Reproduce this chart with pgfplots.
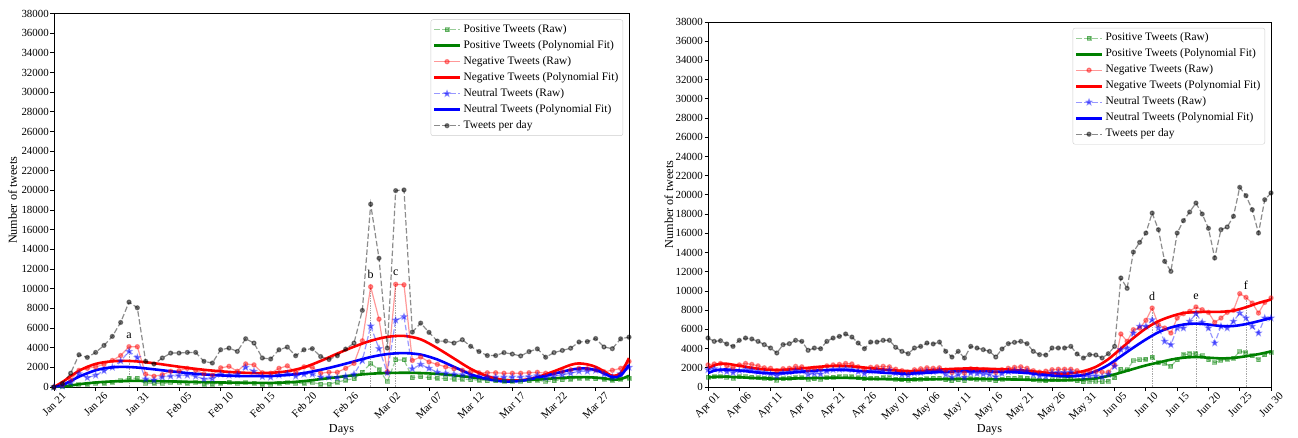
\documentclass[border=0pt]{standalone}
\usepackage{fontspec}
\setmainfont{Liberation Serif}
\usepackage{graphicx}
\usepackage{pgfplots}
\usepackage{pgfplotstable}
\pgfplotsset{compat=1.18}

\definecolor{mplgreen}{RGB}{0,128,0}
\definecolor{mplred}{RGB}{255,0,0}
\definecolor{mplblue}{RGB}{0,0,255}

% filled five-pointed star marker
\pgfdeclareplotmark{fstar}{%
  \pgfpathmoveto{\pgfpointpolar{90}{1.3\pgfplotmarksize}}%
  \pgfpathlineto{\pgfpointpolar{126}{0.55\pgfplotmarksize}}%
  \pgfpathlineto{\pgfpointpolar{162}{1.3\pgfplotmarksize}}%
  \pgfpathlineto{\pgfpointpolar{198}{0.55\pgfplotmarksize}}%
  \pgfpathlineto{\pgfpointpolar{234}{1.3\pgfplotmarksize}}%
  \pgfpathlineto{\pgfpointpolar{270}{0.55\pgfplotmarksize}}%
  \pgfpathlineto{\pgfpointpolar{306}{1.3\pgfplotmarksize}}%
  \pgfpathlineto{\pgfpointpolar{342}{0.55\pgfplotmarksize}}%
  \pgfpathlineto{\pgfpointpolar{18}{1.3\pgfplotmarksize}}%
  \pgfpathlineto{\pgfpointpolar{54}{0.55\pgfplotmarksize}}%
  \pgfpathclose
  \pgfusepathqfillstroke}

\newcommand{\rl}[1]{\rotatebox{45}{#1}}
\tikzset{letter/.style={font=\fontsize{12}{14}\selectfont, anchor=base}}

% daily counts, 21 Jan -- 31 Mar
\pgfplotstableread{
i pos neg neu tot
0 0 0 0 0
1 50 200 100 350
2 150 700 450 1400
3 250 1700 1350 3280
4 300 1900 950 3010
5 350 2050 1200 3520
6 400 2300 1650 4230
7 500 2700 2000 5150
8 650 3200 2650 6570
9 900 4100 3620 8640
10 900 4100 3000 8060
11 350 1300 800 2610
12 400 1100 700 2340
13 350 1250 1000 2950
14 450 1600 1100 3450
15 450 1650 1150 3450
16 400 1900 1200 3520
17 450 1700 1100 3520
18 300 1350 800 2610
19 300 1200 850 2440
20 400 1950 1300 3790
21 500 2100 1200 3960
22 350 1600 1250 3620
23 450 2350 2000 4910
24 400 2250 1600 4470
25 300 1450 1050 2950
26 250 1400 1000 2850
27 400 1900 1200 3790
28 450 2150 1350 4060
29 350 1450 1100 3180
30 400 2050 1300 3790
31 450 2000 1300 3900
32 300 1400 1000 3100
33 300 1500 1000 2800
34 500 1500 950 3180
35 700 1900 1100 3860
36 850 2400 1300 4470
37 1500 4700 2700 7790
38 2400 10200 6200 18600
39 1750 6900 3900 13100
40 550 1550 1450 3960
41 2750 10450 6800 19980
42 2750 10400 7150 20050
43 950 2700 1850 5590
44 1050 3050 2300 6500
45 950 2550 1900 5560
46 900 2300 1500 4670
47 850 2050 1400 4670
48 800 1850 1300 4470
49 800 1700 1250 4810
50 750 1550 1100 4140
51 700 1450 1050 3610
52 650 1450 1000 3200
53 650 1450 1000 3200
54 600 1400 1000 3500
55 600 1400 1000 3350
56 550 1400 1000 3160
57 650 1450 1050 3600
58 700 1500 1150 3880
59 550 1400 950 3030
60 650 1450 1100 3500
61 750 1600 1250 3720
62 800 1750 1400 3950
63 900 1900 1600 4580
64 900 1850 1600 4620
65 850 1750 1700 4930
66 800 1550 1300 4070
67 700 1700 1000 3900
68 800 1900 1350 4900
69 900 2600 2000 5070
}\leftraw

% polynomial trend lines, 21 Jan -- 31 Mar
\pgfplotstableread{
i pos neg neu
0 0 0 0
1 40 500 200
2 150 1100 600
3 280 1650 1050
4 380 2050 1400
5 460 2350 1700
6 520 2520 1900
7 570 2620 2000
8 600 2660 2050
9 615 2650 2030
10 620 2600 1980
12 600 2420 1800
14 570 2180 1600
16 530 1950 1420
18 490 1750 1280
20 460 1600 1180
22 440 1480 1120
24 420 1420 1100
26 420 1440 1120
28 470 1600 1220
30 600 2000 1420
32 800 2650 1750
34 1000 3400 2150
36 1200 4100 2600
38 1350 4700 3050
40 1420 5100 3350
42 1450 5200 3450
44 1420 4850 3300
46 1330 3950 2800
48 1180 2900 2050
50 1000 1850 1300
52 820 1100 800
54 700 720 560
56 680 680 620
58 760 1000 950
60 880 1600 1350
62 980 2250 1750
63 1000 2400 1880
64 1000 2300 1880
65 950 2050 1720
66 880 1600 1400
67 760 1150 1000
68 800 1400 1150
69 1150 2950 2250
}\leftfit

% daily counts, 1 Apr -- 30 Jun
\pgfplotstableread{
i pos neg neu tot
0 1000 2300 1800 5100
1 1050 2400 1900 4750
2 1100 2450 1750 4820
3 1000 2200 1600 4480
4 900 2000 1500 4230
5 1050 2300 1700 4860
6 1100 2450 1800 5100
7 1000 2350 1750 5000
8 950 2200 1600 4750
9 900 2000 1500 4410
10 850 1950 1400 4060
11 700 1700 1150 3540
12 850 1900 1500 4410
13 900 1950 1550 4510
14 950 2150 1700 4860
15 950 2100 1650 4750
16 800 1800 1300 3820
17 850 1950 1400 4060
18 800 1950 1350 3990
19 950 2200 1650 4750
20 1000 2300 1800 5100
21 1050 2350 1850 5270
22 1100 2450 1900 5520
23 1050 2400 1800 5200
24 950 2100 1600 4580
25 850 1850 1400 3990
26 900 2050 1650 4680
27 900 2100 1700 4680
28 950 2150 1700 4860
29 950 2100 1750 4860
30 800 1850 1450 4130
31 750 1700 1300 3710
32 700 1550 1200 3470
33 800 1800 1450 4060
34 800 1900 1500 4230
35 850 2000 1650 4580
36 900 1950 1600 4480
37 900 2000 1700 4680
38 750 1750 1300 3710
39 650 1500 1000 3120
40 750 1750 1300 3710
41 650 1450 1000 3020
42 850 1900 1450 4230
43 800 1850 1400 4060
44 800 1800 1350 3890
45 750 1750 1300 3710
46 650 1500 1050 3120
47 800 1800 1400 3960
48 900 1950 1600 4510
49 900 2050 1700 4650
50 950 2100 1700 4750
51 900 1950 1650 4510
52 750 1700 1300 3710
53 700 1550 1150 3370
54 650 1650 1100 3330
55 750 1800 1450 4060
56 750 1850 1500 4060
57 800 1850 1500 4060
58 800 1850 1550 4230
59 650 1700 1250 3440
60 550 1500 1050 3020
61 600 1650 1150 3370
62 600 1600 1150 3330
63 550 1550 1050 3020
64 600 1550 1300 3470
65 950 2300 2150 4230
66 1850 5520 3890 11350
67 1800 4750 4060 10270
68 2750 5970 5620 14050
69 2850 6140 6320 15060
70 2900 6940 6320 16030
71 3100 8220 7000 18110
72 2500 6490 6140 16380
73 2450 6140 4750 13080
74 2150 5620 4400 12040
75 2850 7180 6140 16030
76 3350 7630 6140 17320
77 3450 7880 6840 18220
78 3450 8330 7630 19150
79 3250 8050 6730 18010
80 2850 7770 6140 16520
81 2550 6730 4580 13430
82 2780 7180 6320 16380
83 2900 7770 6140 16660
84 3000 7980 6840 17770
85 3700 9720 7700 20790
86 3600 9330 7180 19920
87 3250 8740 6320 18460
88 2850 7700 5620 16030
89 3350 8810 7180 19500
90 3600 9270 7180 20200
}\rightraw

% polynomial trend lines, 1 Apr -- 30 Jun
\pgfplotstableread{
i pos neg neu
0 1000 1950 1450
1 1050 2250 1700
2 1080 2420 1800
3 1075 2420 1820
4 1050 2320 1780
6 980 2100 1650
8 920 1900 1500
10 880 1780 1420
12 870 1780 1430
14 890 1880 1530
16 920 2000 1650
18 950 2120 1740
20 960 2180 1780
22 950 2180 1760
24 910 2090 1690
26 860 1960 1590
28 820 1830 1490
30 790 1720 1420
32 780 1660 1400
34 790 1680 1440
36 810 1760 1520
38 830 1850 1590
40 840 1910 1630
42 840 1930 1640
44 830 1910 1630
46 810 1870 1600
48 790 1820 1560
50 770 1740 1500
52 740 1620 1400
54 700 1480 1260
56 690 1400 1130
58 720 1420 1100
60 780 1650 1250
62 900 2100 1650
64 1150 2900 2300
66 1500 4000 3200
68 1880 5100 4100
70 2250 6100 4950
72 2550 6850 5700
74 2850 7350 6200
76 3050 7700 6500
78 3120 7800 6600
80 3050 7820 6500
82 2980 7830 6350
84 3030 7950 6350
86 3200 8300 6550
88 3420 8750 6850
90 3700 9100 7180
}\rightfit

\pgfplotsset{
  tweetaxis/.style={
    scale only axis, anchor=south west,
    ymin=0, ymax=38000, ytick={0,2000,...,38000},
    scaled y ticks=false,
    /pgf/number format/1000 sep={},
    /pgf/number format/assume math mode=true,
    tick align=outside, major tick length=3.5pt,
    xtick pos=lower, ytick pos=left,
    tick style={black, line width=0.8pt},
    axis line style={line width=0.8pt},
    ticklabel style={font=\fontsize{10.9}{12}\selectfont},
    xticklabel style={anchor=north, inner sep=1pt},
    yticklabel style={inner xsep=1.5pt},
    label style={font=\fontsize{12.2}{14}\selectfont},
    ylabel={Number of tweets},
    xlabel={Days},
    legend cell align=left,
    legend style={at={(1,1)}, anchor=north east, xshift=-6pt, yshift=-6pt,
      draw=black!20, rounded corners=2pt, fill=white, fill opacity=0.8,
      text opacity=1, font=\fontsize{11.4}{13}\selectfont, row sep=0pt,
      inner sep=2pt,
      nodes={inner ysep=2.7pt, inner xsep=2.5pt, text height=8pt, text depth=2.6pt}},
    legend image code/.code={\draw[mark repeat=2,mark phase=2,##1]
      plot coordinates {(0cm,0cm) (0.45cm,0cm) (0.9cm,0cm)};},
  },
  rawpos/.style={mplgreen, opacity=0.4, line width=1.2pt,
    dash pattern=on 5.5pt off 2.5pt, mark=square*, mark size=1.9pt, mark options={solid}},
  rawneg/.style={mplred, opacity=0.4, line width=1.2pt,
    mark=*, mark size=2.1pt, mark options={solid}},
  rawneu/.style={mplblue, opacity=0.4, line width=1.2pt,
    dash pattern=on 5.5pt off 2.5pt, mark=fstar, mark size=2.1pt, mark options={solid}},
  rawtot/.style={black, opacity=0.45, line width=1.2pt,
    dash pattern=on 5.5pt off 2.5pt, mark=*, mark size=2.0pt, mark options={solid}},
  fitline/.style={line width=2.6pt, smooth, no marks},
  annot/.style={forget plot, black!35, densely dotted, line width=0.7pt},
}

\begin{document}
\begin{tikzpicture}
\useasboundingbox (0,0) rectangle (1298pt,437pt);

\begin{axis}[tweetaxis,
  at={(54pt,50pt)}, width=575pt, height=373.5pt,
  xmin=0, xmax=69,
  xtick={0,5,...,65},
  xticklabels={\rl{Jan 21},\rl{Jan 26},\rl{Jan 31},\rl{Feb 05},\rl{Feb 10},\rl{Feb 15},\rl{Feb 20},\rl{Feb 26},\rl{Mar 02},\rl{Mar 07},\rl{Mar 12},\rl{Mar 17},\rl{Mar 22},\rl{Mar 27}},
  xlabel style={at={(axis description cs:0.5,-0.115)}, anchor=center},
  ylabel style={at={(axis description cs:-0.0718,0.5)}, anchor=center},
]
\addplot[annot] coordinates {(9,0) (9,4100)};
\addplot[annot] coordinates {(38,0) (38,10200)};
\addplot[annot] coordinates {(41,0) (41,10450)};

\addplot[rawpos] table[x=i, y=pos] {\leftraw};
\addlegendentry{Positive Tweets (Raw)}
\addplot[fitline, mplgreen] table[x=i, y=pos] {\leftfit};
\addlegendentry{Positive Tweets (Polynomial Fit)}
\addplot[rawneg] table[x=i, y=neg] {\leftraw};
\addlegendentry{Negative Tweets (Raw)}
\addplot[fitline, mplred] table[x=i, y=neg] {\leftfit};
\addlegendentry{Negative Tweets (Polynomial Fit)}
\addplot[rawneu] table[x=i, y=neu] {\leftraw};
\addlegendentry{Neutral Tweets (Raw)}
\addplot[fitline, mplblue] table[x=i, y=neu] {\leftfit};
\addlegendentry{Neutral Tweets (Polynomial Fit)}
\addplot[rawtot] table[x=i, y=tot] {\leftraw};
\addlegendentry{Tweets per day}

\node[letter] at (axis cs:9,4950) {a};
\node[letter] at (axis cs:38,11000) {b};
\node[letter] at (axis cs:41,11300) {c};
\end{axis}

\begin{axis}[tweetaxis,
  at={(708pt,50pt)}, width=563pt, height=365pt,
  xmin=0, xmax=90,
  xtick={0,5,...,90},
  xticklabels={\rl{Apr 01},\rl{Apr 06},\rl{Apr 11},\rl{Apr 16},\rl{Apr 21},\rl{Apr 26},\rl{May 01},\rl{May 06},\rl{May 11},\rl{May 16},\rl{May 21},\rl{May 26},\rl{May 31},\rl{Jun 05},\rl{Jun 10},\rl{Jun 15},\rl{Jun 20},\rl{Jun 25},\rl{Jun 30}},
  xlabel style={at={(axis description cs:0.5,-0.118)}, anchor=center},
  ylabel style={at={(axis description cs:-0.0693,0.5)}, anchor=center},
]
\addplot[annot] coordinates {(71,0) (71,8220)};
\addplot[annot] coordinates {(78,0) (78,8330)};
\addplot[annot] coordinates {(86,0) (86,9330)};

\addplot[rawpos] table[x=i, y=pos] {\rightraw};
\addlegendentry{Positive Tweets (Raw)}
\addplot[fitline, mplgreen] table[x=i, y=pos] {\rightfit};
\addlegendentry{Positive Tweets (Polynomial Fit)}
\addplot[rawneg] table[x=i, y=neg] {\rightraw};
\addlegendentry{Negative Tweets (Raw)}
\addplot[fitline, mplred] table[x=i, y=neg] {\rightfit};
\addlegendentry{Negative Tweets (Polynomial Fit)}
\addplot[rawneu] table[x=i, y=neu] {\rightraw};
\addlegendentry{Neutral Tweets (Raw)}
\addplot[fitline, mplblue] table[x=i, y=neu] {\rightfit};
\addlegendentry{Neutral Tweets (Polynomial Fit)}
\addplot[rawtot] table[x=i, y=tot] {\rightraw};
\addlegendentry{Tweets per day}

\node[letter] at (axis cs:71,9000) {d};
\node[letter] at (axis cs:78,9130) {e};
\node[letter] at (axis cs:86,10180) {f};
\end{axis}
\end{tikzpicture}
\end{document}
